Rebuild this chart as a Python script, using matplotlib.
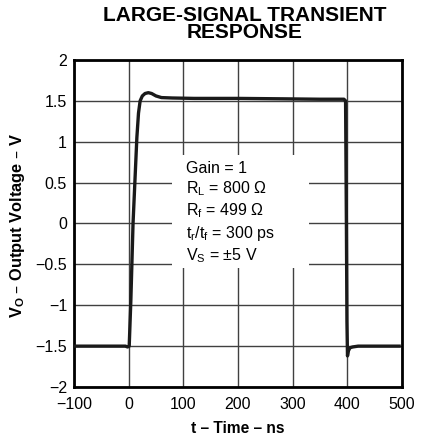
#!/usr/bin/env python3
"""Large-signal transient response (output voltage vs time)."""

import matplotlib

matplotlib.use("Agg")
import matplotlib.pyplot as plt
from matplotlib.patches import Rectangle

plt.rcParams["font.family"] = ["Liberation Sans", "DejaVu Sans"]

# Waveform
time_ns = [-100, -60, -20, -6, -2, 1, 4, 8, 12, 15, 18, 21, 25, 30, 36, 42,
           50, 60, 80, 120, 200, 280, 350, 394, 397, 398.5, 399.5, 400.5, 402,
           405, 410, 420, 440, 470, 495]
vout_v = [-1.50, -1.50, -1.50, -1.50, -1.51, -1.50, -0.94, 0.00, 0.60, 1.05,
          1.35, 1.50, 1.56, 1.59, 1.60, 1.59, 1.56, 1.54, 1.535, 1.53, 1.53,
          1.525, 1.52, 1.52, 1.50, 0.0, -1.20, -1.62, -1.56, -1.52, -1.51,
          -1.50, -1.50, -1.50, -1.50]

x_ticks = [-100, 0, 100, 200, 300, 400, 500]
y_ticks = [-2, -1.5, -1, -0.5, 0, 0.5, 1, 1.5, 2]
y_tick_labels = ["\u22122", "\u22121.5", "\u22121", "\u22120.5", "0", "0.5", "1", "1.5", "2"]

conditions = [
    "Gain = 1",
    "R$_\\mathregular{L}$ = 800 \u03a9",
    "R$_\\mathregular{f}$ = 499 \u03a9",
    "t$_\\mathregular{r}$/t$_\\mathregular{f}$ = 300 ps",
    "V$_\\mathregular{S}$ = \u00b15 V",
]


def main() -> None:
    fig = plt.figure(figsize=(4.23, 4.41), dpi=100)
    ax = fig.add_axes([0.175, 0.1224, 0.775, 0.7416])

    ax.set_xlim(-100, 500)
    ax.set_ylim(-2, 2)
    ax.set_xticks(x_ticks)
    ax.set_yticks(y_ticks)
    ax.set_yticklabels(y_tick_labels)
    ax.tick_params(length=0, labelsize=11.5)
    ax.tick_params(axis="x", pad=7)
    ax.tick_params(axis="y", pad=5)
    ax.grid(True, color="#404040", linewidth=1.0)
    ax.set_axisbelow(True)
    for spine in ax.spines.values():
        spine.set_linewidth(2.0)

    # white box behind the test conditions (breaks the grid)
    ax.add_patch(Rectangle((79, -0.544), 251, 1.382, facecolor="white",
                           edgecolor="none", zorder=1.5))

    ax.plot(time_ns, vout_v, color="#1a1a1a", linewidth=2.4, zorder=3,
            solid_joinstyle="round")

    ax.text(105, 0.76, "\n".join(conditions), fontsize=11.5, va="top", ha="left",
            linespacing=1.24, zorder=4)

    ax.set_xlabel("t \u2013 Time \u2013 ns", fontsize=11.2, fontweight="bold", labelpad=7)
    ax.set_ylabel("V$_\\mathregular{O}$ \u2013 Output Voltage \u2013 V", fontsize=11.8,
                  fontweight="bold")
    ax.yaxis.set_label_coords(-0.143, 0.495)
    ax.set_title("LARGE-SIGNAL TRANSIENT\nRESPONSE", fontsize=15,
                 fontweight="bold", linespacing=0.85, pad=16, x=0.52)

    fig.savefig("out.png", dpi=100)


if __name__ == "__main__":
    main()
